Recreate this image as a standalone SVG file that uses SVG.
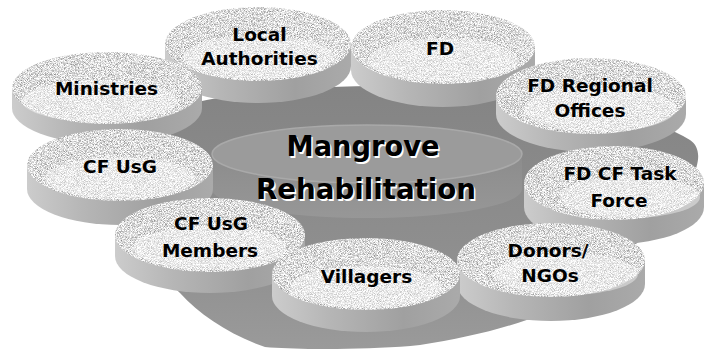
<svg xmlns="http://www.w3.org/2000/svg" width="704" height="349" viewBox="0 0 704 349">
<defs>
<filter id="spk" color-interpolation-filters="sRGB">
<feTurbulence type="fractalNoise" baseFrequency="1.3" numOctaves="1" seed="7" result="n"/>
<feColorMatrix in="n" type="matrix" values="-1.15 0 0 0 1.44  -1.15 0 0 0 1.44  -1.15 0 0 0 1.44  0 0 0 0 1" result="g"/>
<feComposite in="g" in2="SourceGraphic" operator="in"/>
</filter>
<linearGradient id="sideg" x1="0" y1="0" x2="1" y2="0">
<stop offset="0" stop-color="#cccccc"/>
<stop offset="0.3" stop-color="#b6b6b6"/>
<stop offset="0.7" stop-color="#a0a0a0"/>
<stop offset="1" stop-color="#aaaaaa"/>
</linearGradient>
<linearGradient id="baseg" x1="0" y1="0" x2="0" y2="1">
<stop offset="0" stop-color="#848484"/>
<stop offset="0.6" stop-color="#8e8e8e"/>
<stop offset="1" stop-color="#9a9a9a"/>
</linearGradient>
<linearGradient id="innerside" x1="0" y1="0" x2="0" y2="1">
<stop offset="0" stop-color="#8c8c8c"/>
<stop offset="1" stop-color="#979797"/>
</linearGradient>
</defs>
<style>
.side{fill:url(#sideg)}
.face{fill:#ddd;filter:url(#spk)}
.shine{fill:#fff;opacity:0.4}
.lbl{font-family:"DejaVu Sans","Liberation Sans",sans-serif;font-weight:bold;font-size:18.5px;fill:#000;text-anchor:middle}
.ttl{font-family:"DejaVu Sans","Liberation Sans",sans-serif;font-weight:bold;font-size:29px;text-anchor:middle}
</style>
<rect width="704" height="349" fill="#fff"/>

<g id="base">
<path d="M130,130 C170,95 290,86 390,86 C520,86 640,110 690,140 C705,150 700,175 670,210 L635,245 C600,300 520,330 420,345 C370,350 300,350 265,347 C230,335 200,315 180,293 C150,265 120,235 110,200 C100,170 105,150 130,130 Z" fill="url(#baseg)"/>
<path d="M212,154 L212,189 A155,29 0 0 0 522,189 L522,154 Z" fill="url(#innerside)"/>
<ellipse cx="367" cy="154" rx="155" ry="29" fill="#9b9b9b" stroke="#a9a9a9" stroke-width="1.5"/>
<text class="ttl" x="364.5" y="157.5" fill="#fff" textLength="153" lengthAdjust="spacingAndGlyphs">Mangrove</text>
<text class="ttl" x="363" y="156" fill="#000" textLength="153" lengthAdjust="spacingAndGlyphs">Mangrove</text>
<text class="ttl" x="367.5" y="200.5" fill="#fff" textLength="220" lengthAdjust="spacingAndGlyphs">Rehabilitation</text>
<text class="ttl" x="366" y="199" fill="#000" textLength="220" lengthAdjust="spacingAndGlyphs">Rehabilitation</text>
</g>

<g id="connectors"></g>

<g id="local-authorities">
<path class="side" d="M165,44 L165,66 A93,37 0 0 0 351,66 L351,44 Z"/>
<ellipse class="face" cx="258" cy="44" rx="93" ry="37"/>
<ellipse class="shine" cx="258" cy="57" rx="75" ry="22"/>
<text class="lbl" x="259.5" y="40.5">Local</text>
<text class="lbl" x="259.5" y="64.5">Authorities</text>
</g>

<g id="fd">
<path class="side" d="M351,47 L351,70 A92,37 0 0 0 535,70 L535,47 Z"/>
<ellipse class="face" cx="443" cy="47" rx="92" ry="37"/>
<ellipse class="shine" cx="443" cy="60" rx="75" ry="22"/>
<text class="lbl" x="440" y="55">FD</text>
</g>

<g id="ministries">
<path class="side" d="M12,88 L12,108 A95,36 0 0 0 202,108 L202,88 Z"/>
<ellipse class="face" cx="107" cy="88" rx="95" ry="36"/>
<ellipse class="shine" cx="100" cy="101" rx="78" ry="21"/>
<text class="lbl" x="106.5" y="95">Ministries</text>
</g>

<g id="fd-regional-offices">
<path class="side" d="M496,96 L496,114 A95,38 0 0 0 686,114 L686,96 Z"/>
<ellipse class="face" cx="591" cy="96" rx="95" ry="38"/>
<ellipse class="shine" cx="600" cy="109" rx="76" ry="23"/>
<text class="lbl" x="590" y="91.7">FD Regional</text>
<text class="lbl" x="590" y="116.7">Offices</text>
</g>

<g id="cf-usg">
<path class="side" d="M27,165 L27,189 A93,36 0 0 0 213,189 L213,165 Z"/>
<ellipse class="face" cx="120" cy="165" rx="93" ry="36"/>
<ellipse class="shine" cx="120" cy="178" rx="75" ry="21"/>
<text class="lbl" x="120" y="173">CF UsG</text>
</g>

<g id="fd-cf-task-force">
<path class="side" d="M524,183 L524,207 A90,37 0 0 0 704,207 L704,183 Z"/>
<ellipse class="face" cx="614" cy="183" rx="90" ry="37"/>
<ellipse class="shine" cx="630" cy="197" rx="70" ry="21"/>
<text class="lbl" x="620" y="180">FD CF Task</text>
<text class="lbl" x="619" y="206.7">Force</text>
</g>

<g id="cf-usg-members">
<path class="side" d="M115,235 L115,256 A95,37 0 0 0 305,256 L305,235 Z"/>
<ellipse class="face" cx="210" cy="235" rx="95" ry="37"/>
<ellipse class="shine" cx="210" cy="248" rx="76" ry="22"/>
<text class="lbl" x="211" y="230">CF UsG</text>
<text class="lbl" x="210" y="256.7">Members</text>
</g>

<g id="donors-ngos">
<path class="side" d="M457,260 L457,284 A94,37 0 0 0 645,284 L645,260 Z"/>
<ellipse class="face" cx="551" cy="260" rx="94" ry="37"/>
<ellipse class="shine" cx="566" cy="274" rx="72" ry="21"/>
<text class="lbl" x="548" y="256.7">Donors/</text>
<text class="lbl" x="550" y="281.7">NGOs</text>
</g>

<g id="villagers">
<path class="side" d="M272,274 L272,296 A94,36 0 0 0 460,296 L460,274 Z"/>
<ellipse class="face" cx="366" cy="274" rx="94" ry="36"/>
<ellipse class="shine" cx="366" cy="287" rx="76" ry="21"/>
<text class="lbl" x="366.5" y="283.3">Villagers</text>
</g>
</svg>
